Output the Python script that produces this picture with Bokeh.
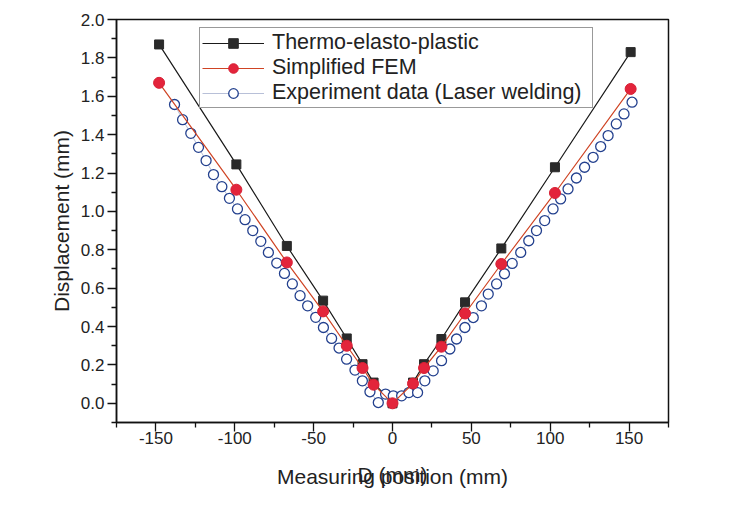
from bokeh.plotting import figure
from bokeh.models import Legend, LegendItem, Range1d, FixedTicker, LinearAxis
from bokeh.embed import file_html
from bokeh.resources import INLINE

# ---- data ----
pos = [-148, -99, -67, -44, -29, -19, -12, 0, 13, 20, 31, 46, 69, 103, 151]
thermo = [1.87, 1.245, 0.82, 0.535, 0.338, 0.204, 0.108, 0.0, 0.108, 0.204, 0.335, 0.526, 0.807, 1.23, 1.83]
fem = [1.67, 1.113, 0.734, 0.479, 0.300, 0.184, 0.097, 0.0, 0.103, 0.184, 0.295, 0.468, 0.726, 1.096, 1.638]

exp_x = [-138.2, -133.1, -127.9, -123.0, -118.2, -113.5, -108.2, -103.4, -98.3, -93.5,
         -88.6, -83.5, -78.7, -73.4, -68.5, -63.5, -58.6, -53.8, -48.7, -43.8,
         -38.6, -33.9, -29.1, -23.8, -19.1, -14.3, -9.0, -4.4, 0.5, 5.8,
         10.4, 15.9, 20.5, 25.8, 31.1, 36.4, 40.6, 45.9, 51.2, 56.4,
         60.7, 66.0, 71.0, 75.9, 81.3, 86.4, 91.3, 96.5, 101.8, 106.6,
         111.3, 116.6, 121.8, 127.2, 132.0, 136.7, 141.9, 146.8, 151.9]
exp_y = [1.557, 1.478, 1.407, 1.334, 1.265, 1.192, 1.129, 1.068, 1.013, 0.957,
         0.900, 0.844, 0.786, 0.731, 0.677, 0.622, 0.561, 0.508, 0.448, 0.395,
         0.338, 0.288, 0.230, 0.173, 0.117, 0.060, 0.004, 0.048, 0.039, 0.039,
         0.056, 0.056, 0.117, 0.169, 0.222, 0.283, 0.335, 0.395, 0.447, 0.508,
         0.569, 0.622, 0.675, 0.729, 0.786, 0.847, 0.900, 0.952, 1.013, 1.065,
         1.117, 1.174, 1.230, 1.282, 1.338, 1.395, 1.456, 1.508, 1.569]

x_major = [-150, -100, -50, 0, 50, 100, 150]
x_minor = [-175, -125, -75, -25, 25, 75, 125, 175]
y_major = [0.0, 0.2, 0.4, 0.6, 0.8, 1.0, 1.2, 1.4, 1.6, 1.8, 2.0]
y_minor = [-0.1, 0.1, 0.3, 0.5, 0.7, 0.9, 1.1, 1.3, 1.5, 1.7, 1.9]

labels = ["Thermo-elasto-plastic", "Simplified FEM", "Experiment data (Laser welding)"]
x_title = "Measuring position (mm)"
x_title_overlap = "D (mm)"
y_title = "Displacement (mm)"

FONT = "Liberation Sans"
TXT = "#222222"

p = figure(frame_width=552, frame_height=403,
           x_range=Range1d(-175, 175), y_range=Range1d(-0.1, 2.0),
           output_backend="svg", toolbar_location=None,
           min_border_left=116, min_border_top=19, min_border_right=60,
           min_border_bottom=80)

p.background_fill_color = "white"
p.border_fill_color = "white"
p.outline_line_color = "#111111"
p.outline_line_width = 1.5
p.xgrid.visible = False
p.ygrid.visible = False

# series
l1 = p.line(pos, thermo, line_color="#1a1a1a", line_width=1.2)
s1 = p.scatter(pos, thermo, marker="square", size=9, fill_color="#2a2a2a", line_color="#2a2a2a")
l3 = p.line(exp_x, exp_y, line_color="#b8c0d8", line_width=1)
s3 = p.scatter(exp_x, exp_y, marker="circle", size=10, fill_color="white",
               line_color="#23408e", line_width=1.3)
l2 = p.line(pos, fem, line_color="#cf4424", line_width=1.2)
s2 = p.scatter(pos, fem, marker="circle", size=11, fill_color="#e3243b", line_color="#d82035")

# axes
for ax in (p.xaxis[0], p.yaxis[0]):
    ax.axis_line_color = "#111111"
    ax.axis_line_width = 1.5
    ax.major_tick_line_color = "#111111"
    ax.minor_tick_line_color = "#111111"
    ax.major_tick_line_width = 1.3
    ax.minor_tick_line_width = 1.3
    ax.major_tick_in = 0
    ax.major_tick_out = 9
    ax.minor_tick_in = 0
    ax.minor_tick_out = 5
    ax.major_label_text_font = FONT
    ax.major_label_text_font_size = "17px"
    ax.major_label_text_color = TXT
    ax.axis_label_text_font = FONT
    ax.axis_label_text_font_size = "21px"
    ax.axis_label_text_font_style = "normal"
    ax.axis_label_text_color = TXT

p.xaxis.ticker = FixedTicker(ticks=x_major, minor_ticks=x_minor)
p.yaxis.ticker = FixedTicker(ticks=y_major, minor_ticks=y_minor)
p.yaxis.major_label_overrides = {v: f"{v:.1f}" for v in y_major}
p.xaxis.major_label_overrides = {v: str(v) for v in x_major}
p.xaxis.axis_label = x_title
p.yaxis.axis_label = y_title
p.xaxis.major_label_standoff = 0
p.xaxis.axis_label_standoff = 18
p.yaxis.major_label_standoff = 3
p.yaxis.axis_label_standoff = 5

# second, overlapping x title that is present in the reference
ax2 = LinearAxis(axis_label=x_title_overlap, ticker=FixedTicker(ticks=[]),
                 axis_line_color=None, major_tick_line_color=None,
                 minor_tick_line_color=None, major_label_text_font_size="0px",
                 axis_label_text_font=FONT, axis_label_text_font_size="21px",
                 axis_label_text_font_style="normal", axis_label_text_color=TXT,
                 axis_label_standoff=-28)
p.add_layout(ax2, "below")

legend = Legend(items=[LegendItem(label=labels[0], renderers=[l1, s1]),
                       LegendItem(label=labels[1], renderers=[l2, s2]),
                       LegendItem(label=labels[2], renderers=[l3, s3])],
                location=(83, 314))
legend.label_text_font = FONT
legend.label_text_font_size = "21.5px"
legend.label_text_color = TXT
legend.border_line_color = "#333333"
legend.border_line_width = 1.5
legend.background_fill_color = "white"
legend.background_fill_alpha = 1.0
legend.glyph_width = 62
legend.glyph_height = 24
legend.label_height = 24
legend.label_width = 318
legend.label_standoff = 8
legend.padding = 2
legend.spacing = 0
legend.margin = 0
p.add_layout(legend, "center")

open("out.html", "w").write(file_html(p, INLINE))
